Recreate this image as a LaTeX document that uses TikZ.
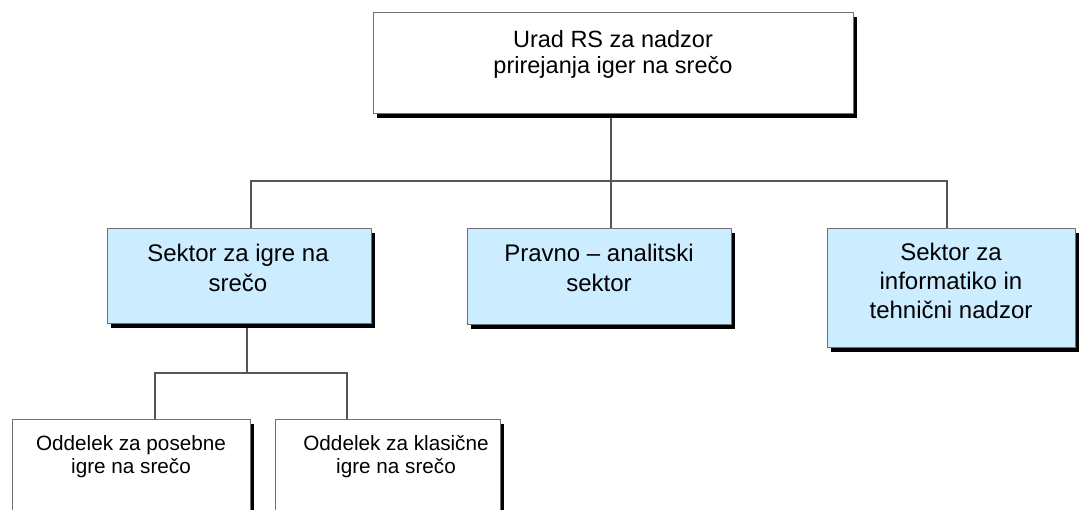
\documentclass[tikz,border=0pt]{standalone}
\usepackage{fontspec}
\setmainfont{Liberation Sans}
\usetikzlibrary{shadows,backgrounds}
\definecolor{boxblue}{HTML}{CCECFF}
\definecolor{linegray}{HTML}{555555}
\definecolor{bordergray}{HTML}{707070}
\begin{document}
\begin{tikzpicture}[x=1pt,y=-1pt,
  box/.style={draw=bordergray, line width=1pt, fill=white, outer sep=0pt, inner sep=0pt,
    anchor=north west,
    drop shadow={shadow xshift=4pt, shadow yshift=-4pt, fill=black, opacity=1}},
  bluebox/.style={box, fill=boxblue},
  conn/.style={draw=linegray, line width=1.4pt},
  txt/.style={align=center, inner sep=0pt, anchor=north, text=black}]
\useasboundingbox (0,0) rectangle (1080,510);
\clip (0,0) rectangle (1080,510);
% boxes
\node[box, minimum width=480pt, minimum height=101pt] (top) at (373,13) {};
\node[bluebox, minimum width=264pt, minimum height=95pt] (s1) at (107,229) {};
\node[bluebox, minimum width=264pt, minimum height=96pt] (s2) at (467,229) {};
\node[bluebox, minimum width=248pt, minimum height=119pt] (s3) at (827,229) {};
\node[box, minimum width=238pt, minimum height=100pt] (o1) at (12,420) {};
\node[box, minimum width=225pt, minimum height=100pt] (o2) at (275,420) {};
% texts
\node[txt, font=\fontsize{23.5}{26}\selectfont] (topt) at (613,30) {Urad RS za nadzor\\prirejanja iger na srečo};
\node[txt, font=\fontsize{24}{30}\selectfont] (s1t) at (238,244) {Sektor za igre na\\srečo};
\node[txt, font=\fontsize{24}{30}\selectfont] (s2t) at (599,244) {Pravno – analitski\\sektor};
\node[txt, font=\fontsize{24}{29}\selectfont] (s3t) at (951,242.5) {Sektor za\\informatiko in\\tehnični nadzor};
\node[txt, font=\fontsize{20.7}{23}\selectfont] (o1t) at (131,435) {Oddelek za posebne\\igre na srečo};
\node[txt, font=\fontsize{20.7}{23}\selectfont] (o2t) at (396,435) {Oddelek za klasične\\igre na srečo};
% connectors
\coordinate (busL) at (251,181);
\coordinate (busM) at (611,181);
\coordinate (busR) at (947,181);
\coordinate (sub) at (247,373);
\coordinate (subL) at (155,373);
\coordinate (subR) at (347,373);
\begin{scope}[on background layer]
\draw[conn] (top.south -| busM) -- (s2.north -| busM);
\draw[conn] (s1.north -| busL) |- (busR) -- (s3.north -| busR);
\draw[conn] (s1.south -| sub) -- (sub);
\draw[conn] (o1.north -| subL) |- (subR) -- (o2.north -| subR);
\end{scope}
\end{tikzpicture}
\end{document}
